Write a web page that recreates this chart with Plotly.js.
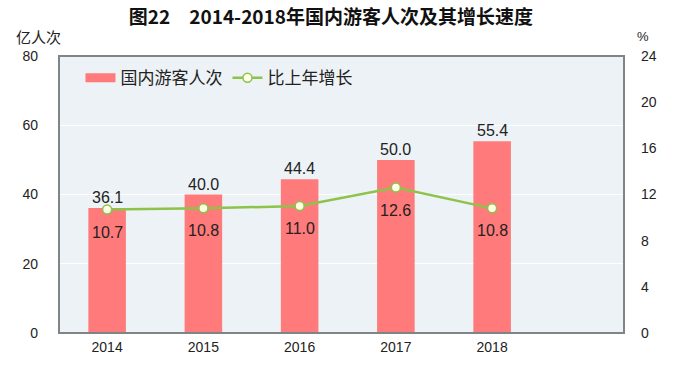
<!DOCTYPE html>
<html>
<head>
<meta charset="utf-8">
<script src="https://cdn.plot.ly/plotly-3.0.1.min.js"></script>
<style>html,body{margin:0;padding:0;background:#fff;}#chart{width:674px;height:366px;}</style>
</head>
<body>
<div id="chart"></div>
<script>
const years = ['2014', '2015', '2016', '2017', '2018'];
const tourists = [36.1, 40.0, 44.4, 50.0, 55.4];
const growth = [10.7, 10.8, 11.0, 12.6, 10.8];
const leftTicks = [0, 20, 40, 60, 80];
const rightTicks = [0, 4, 8, 12, 16, 20, 24];

const FONT = '"Noto Sans CJK SC", "DejaVu Sans", sans-serif';
const NUMFONT = '"Liberation Sans", "Noto Sans CJK SC", sans-serif';
const RED = '#FF7A7A';
const GREEN = '#8DC34A';

const traces = [
  {
    type: 'bar', x: years, y: tourists, name: '国内游客人次',
    marker: {color: RED}, width: 0.39, hoverinfo: 'none', showlegend: false
  },
  {
    type: 'scatter', mode: 'lines+markers', x: years, y: growth, yaxis: 'y2',
    name: '比上年增长',
    line: {color: GREEN, width: 2.5},
    marker: {size: 9, color: '#FFFFE8', line: {color: GREEN, width: 1.5}},
    hoverinfo: 'none', showlegend: false
  },
  // legend-only entries (no drawn data)
  {
    type: 'scatter', mode: 'lines', x: [null], y: [null], name: '国内游客人次',
    line: {color: RED, width: 9}, hoverinfo: 'none'
  },
  {
    type: 'scatter', mode: 'lines+markers', x: [null], y: [null], yaxis: 'y2',
    name: '比上年增长',
    line: {color: GREEN, width: 2.5},
    marker: {size: 9, color: '#FFFFE8', line: {color: GREEN, width: 1.5}},
    hoverinfo: 'none'
  }
];

const annotations = [];
years.forEach((yr, i) => {
  annotations.push({
    x: i, y: tourists[i], xref: 'x', yref: 'y', text: tourists[i].toFixed(1),
    showarrow: false, yanchor: 'bottom', yshift: 0,
    font: {family: NUMFONT, size: 16, color: '#222'}
  });
  annotations.push({
    x: i, y: growth[i], xref: 'x', yref: 'y2', text: growth[i].toFixed(1),
    showarrow: false, yanchor: 'top', yshift: -12,
    font: {family: NUMFONT, size: 16, color: '#222'}
  });
});
annotations.push({
  text: '亿人次', xref: 'paper', yref: 'paper', x: -0.037, y: 1.0, yshift: 20,
  xanchor: 'center', yanchor: 'middle', showarrow: false,
  font: {family: FONT, size: 15, color: '#222'}
});
annotations.push({
  text: '%', xref: 'paper', yref: 'paper', x: 1.02, y: 1.0, yshift: 20,
  xanchor: 'left', yanchor: 'middle', showarrow: false,
  font: {family: NUMFONT, size: 13, color: '#222'}
});

const layout = {
  width: 674, height: 366,
  margin: {l: 59, r: 50, t: 56, b: 33},
  paper_bgcolor: '#ffffff',
  plot_bgcolor: '#EDF2F6',
  title: {
    text: '图22　2014-2018年国内游客人次及其增长速度',
    x: 0.491, xanchor: 'center', y: 0.953, yanchor: 'middle',
    font: {family: FONT, size: 19, color: '#111', weight: 'bold'}
  },
  showlegend: true,
  legend: {
    orientation: 'h', x: 0.038, y: 0.985, xanchor: 'left', yanchor: 'top',
    bgcolor: 'rgba(0,0,0,0)', font: {family: FONT, size: 17, color: '#222'},
    traceorder: 'normal'
  },
  xaxis: {
    type: 'category', range: [-0.5, 5.37], showgrid: false, zeroline: false,
    tickfont: {family: NUMFONT, size: 14, color: '#222'}, ticks: '',
    ticklabelstandoff: 4
  },
  yaxis: {
    range: [0, 80], tickvals: leftTicks, showgrid: true, gridcolor: '#FFFFFF',
    gridwidth: 1.2, zeroline: false, ticks: '',
    tickfont: {family: NUMFONT, size: 14, color: '#222'}, ticklabelstandoff: 20
  },
  yaxis2: {
    range: [0, 24], tickvals: rightTicks, overlaying: 'y', side: 'right',
    showgrid: false, zeroline: false, ticks: '',
    tickfont: {family: NUMFONT, size: 14, color: '#222'}, ticklabelstandoff: 16
  },
  shapes: [{
    type: 'rect', xref: 'paper', yref: 'paper', x0: 0, x1: 1, y0: 0, y1: 1,
    line: {color: '#7F8487', width: 2}, layer: 'above'
  }],
  annotations: annotations
};

Plotly.newPlot('chart', traces, layout, {displayModeBar: false, staticPlot: true});
</script>
</body>
</html>
